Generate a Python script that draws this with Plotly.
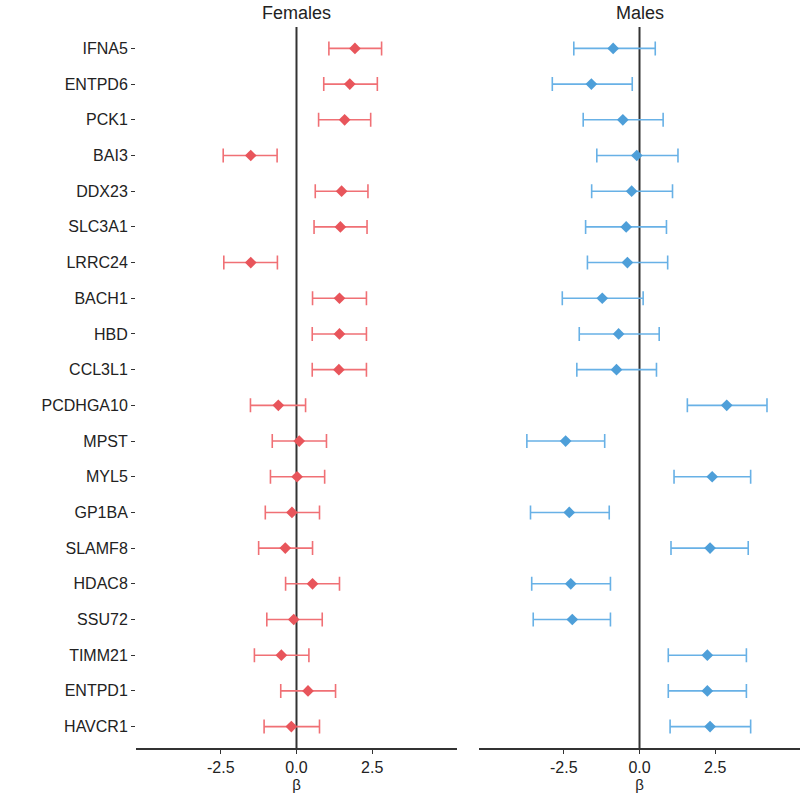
import plotly.graph_objects as go

genes = ["IFNA5", "ENTPD6", "PCK1", "BAI3", "DDX23", "SLC3A1", "LRRC24", "BACH1", "HBD", "CCL3L1",
         "PCDHGA10", "MPST", "MYL5", "GP1BA", "SLAMF8", "HDAC8", "SSU72", "TIMM21", "ENTPD1", "HAVCR1"]

# females: beta, lower, upper
fem_beta = [1.93, 1.76, 1.59, -1.51, 1.49, 1.45, -1.51, 1.42, 1.42, 1.40,
            -0.60, 0.09, 0.02, -0.15, -0.37, 0.53, -0.09, -0.50, 0.38, -0.17]
fem_lo = [1.07, 0.90, 0.73, -2.42, 0.62, 0.58, -2.40, 0.53, 0.52, 0.52,
          -1.52, -0.80, -0.86, -1.03, -1.25, -0.36, -0.98, -1.39, -0.52, -1.07]
fem_hi = [2.81, 2.67, 2.45, -0.64, 2.36, 2.33, -0.63, 2.31, 2.31, 2.31,
          0.30, 0.99, 0.93, 0.76, 0.53, 1.42, 0.85, 0.41, 1.29, 0.76]

# males: beta, lower, upper
male_beta = [-0.87, -1.59, -0.55, -0.09, -0.26, -0.44, -0.40, -1.23, -0.69, -0.76,
             2.88, -2.44, 2.40, -2.32, 2.33, -2.27, -2.22, 2.24, 2.24, 2.33]
male_lo = [-2.17, -2.88, -1.86, -1.41, -1.58, -1.78, -1.72, -2.55, -1.99, -2.07,
           1.58, -3.72, 1.14, -3.60, 1.04, -3.56, -3.51, 0.95, 0.95, 1.01]
male_hi = [0.52, -0.24, 0.78, 1.27, 1.09, 0.89, 0.93, 0.12, 0.65, 0.56,
           4.21, -1.15, 3.67, -1.00, 3.59, -0.96, -0.96, 3.53, 3.53, 3.67]

x_ticks = [-2.5, 0, 2.5]
x_ticktext = ["-2.5", "0.0", "2.5"]

font = "Liberation Sans, Arial, sans-serif"
ink = "#222222"

fig = go.Figure()

def add_panel(beta, lo, hi, color, bar_color, xa, ya):
    fig.add_trace(go.Scatter(
        x=beta, y=genes, mode="markers", xaxis=xa, yaxis=ya,
        marker=dict(symbol="diamond", size=9, color=color),
        error_x=dict(type="data", symmetric=False,
                     array=[h - b for h, b in zip(hi, beta)],
                     arrayminus=[b - l for b, l in zip(beta, lo)],
                     color=bar_color, thickness=1.6, width=7),
        showlegend=False))

add_panel(fem_beta, fem_lo, fem_hi, "#E8555B", "#F07075", "x", "y")
add_panel(male_beta, male_lo, male_hi, "#4E9FD9", "#68B1E6", "x2", "y2")

xcommon = dict(range=[-5.3, 5.3], tickvals=x_ticks, ticktext=x_ticktext,
               showline=True, linecolor="#333333", linewidth=1.6,
               ticks="outside", ticklen=4, tickcolor="#333333",
               showgrid=False, zeroline=False,
               tickfont=dict(family=font, size=16, color=ink),
               title=dict(text="β", font=dict(family=font, size=15, color=ink), standoff=3))
ycommon = dict(categoryorder="array", categoryarray=genes, range=[19.6, -0.6],
               showgrid=False, zeroline=False, showline=False)

fig.update_layout(
    width=800, height=794,
    margin=dict(l=136, r=0, t=27, b=46),
    plot_bgcolor="white", paper_bgcolor="white",
    xaxis=dict(domain=[0, 0.4834], anchor="y", **xcommon),
    xaxis2=dict(domain=[0.5166, 1], anchor="y2", **xcommon),
    yaxis=dict(anchor="x", ticks="outside", ticklen=4, tickcolor="#333333",
               tickfont=dict(family=font, size=16, color=ink), **ycommon),
    yaxis2=dict(anchor="x2", showticklabels=False, matches="y", **ycommon),
)

# zero reference lines
for xr, yr in [("x", "y domain"), ("x2", "y2 domain")]:
    fig.add_shape(type="line", xref=xr, yref=yr, x0=0, x1=0, y0=0, y1=1,
                  line=dict(color="#333333", width=2), layer="below")

for xr, label in [("x domain", "Females"), ("x2 domain", "Males")]:
    fig.add_annotation(text=label, xref=xr, x=0.5, yref="paper", y=1, yanchor="bottom",
                       yshift=2, showarrow=False,
                       font=dict(family=font, size=18, color=ink))

# drop the default 8px body margin so the figure fills the window
fig.write_html("out.html", config={"displayModeBar": False},
               post_script="document.body.style.margin='0';")
